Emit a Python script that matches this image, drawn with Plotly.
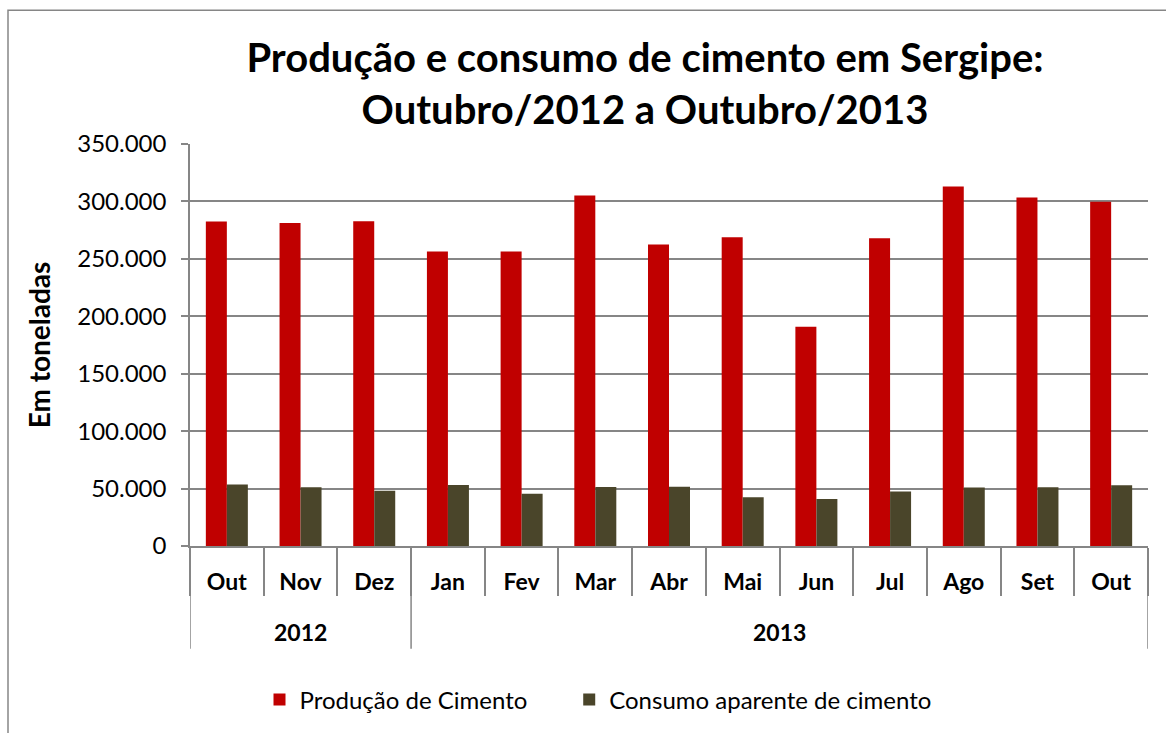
import plotly.graph_objects as go

anos = ["2012", "2013"]
meses_por_ano = [3, 10]
meses = ["Out", "Nov", "Dez", "Jan", "Fev", "Mar", "Abr", "Mai", "Jun", "Jul", "Ago", "Set", "Out"]
producao = [282500, 281300, 282800, 256300, 256300, 305200, 262400, 268800, 190800, 267900, 313000, 303500, 299700]
consumo = [53500, 51200, 48000, 53200, 45400, 51400, 51600, 42500, 41000, 47400, 50900, 51200, 52900]

FONT = "Lato"
GRID = "#868686"
W, H = 1166, 733
L, R, T, B = 190, 18, 144, 186
PH = H - T - B

idx = list(range(len(meses)))

fig = go.Figure()
fig.add_trace(go.Bar(x=idx, y=producao, name="Produção de Cimento" + "\u00a0" * 6,
                     marker=dict(color="#C00000", line=dict(width=0))))
fig.add_trace(go.Bar(x=idx, y=consumo, name="Consumo aparente de cimento",
                     marker=dict(color="#4A452A", line=dict(width=0))))

fig.update_layout(
    width=W, height=H,
    paper_bgcolor="white", plot_bgcolor="white",
    separators=",.",
    margin=dict(l=L, r=R, t=T, b=B),
    barmode="group", bargap=0.43, bargroupgap=0,
    font=dict(family=FONT, color="black", size=20),
    title=dict(text="<b>Produção e consumo de cimento em Sergipe:<br>Outubro/2012 a Outubro/2013</b>",
               x=645 / W, xanchor="center", y=1 - 72 / H, yanchor="middle",
               font=dict(family=FONT, size=40, color="black")),
    legend=dict(orientation="h", x=(598 - L) / (W - L - R), xanchor="center",
                y=-(700 - (H - B)) / PH, yanchor="middle",
                font=dict(family=FONT, size=24), itemwidth=30),
    showlegend=True,
)
fig.update_yaxes(range=[0, 350000], dtick=50000, tickformat=",d",
                 showgrid=True, gridcolor=GRID, gridwidth=1.5,
                 showline=True, linecolor=GRID, linewidth=1.5,
                 ticks="outside", ticklen=7, tickcolor=GRID, tickwidth=1.5,
                 ticklabelstandoff=10,
                 tickfont=dict(family=FONT, size=24),
                 title=dict(text="<b>Em toneladas</b>", font=dict(family=FONT, size=28), standoff=18),
                 zeroline=False)
fig.update_xaxes(range=[-0.5, len(meses) - 0.5],
                 tickmode="array", tickvals=idx, ticktext=[f"<b>{m}</b>" for m in meses],
                 ticks="", ticklabelstandoff=15,
                 showline=True, linecolor=GRID, linewidth=1.5, showgrid=False, zeroline=False,
                 tickfont=dict(family=FONT, size=23),
                 minor=dict(tickmode="array", tickvals=[i - 0.5 for i in range(len(meses) + 1)],
                            ticks="outside", ticklen=48, tickcolor=GRID, tickwidth=1.5, showgrid=False))

# year group labels and separators
start = 0
bounds = [-0.5]
for ano, n in zip(anos, meses_por_ano):
    centro = start + (n - 1) / 2
    fig.add_annotation(x=centro, xref="x", y=-(633 - (H - B)) / PH, yref="paper",
                       text=f"<b>{ano}</b>", showarrow=False, yanchor="middle",
                       font=dict(family=FONT, size=23, color="black"))
    start += n
    bounds.append(start - 0.5)
for b in bounds:
    fig.add_shape(type="line", xref="x", yref="paper", x0=b, x1=b, y0=0, y1=-(650 - (H - B)) / PH,
                  line=dict(color=GRID, width=1.5))

# chart-area border
fig.add_shape(type="rect", xref="paper", yref="paper",
              x0=(8 - L) / (W - L - R), x1=(1185 - L) / (W - L - R),
              y0=-(760 - (H - B)) / PH, y1=((H - B) - 10) / PH,
              line=dict(color=GRID, width=1.5), fillcolor="rgba(0,0,0,0)", layer="below")

fig.write_html("out.html", config={"displayModeBar": False},
               post_script="document.body.style.margin='0';")
